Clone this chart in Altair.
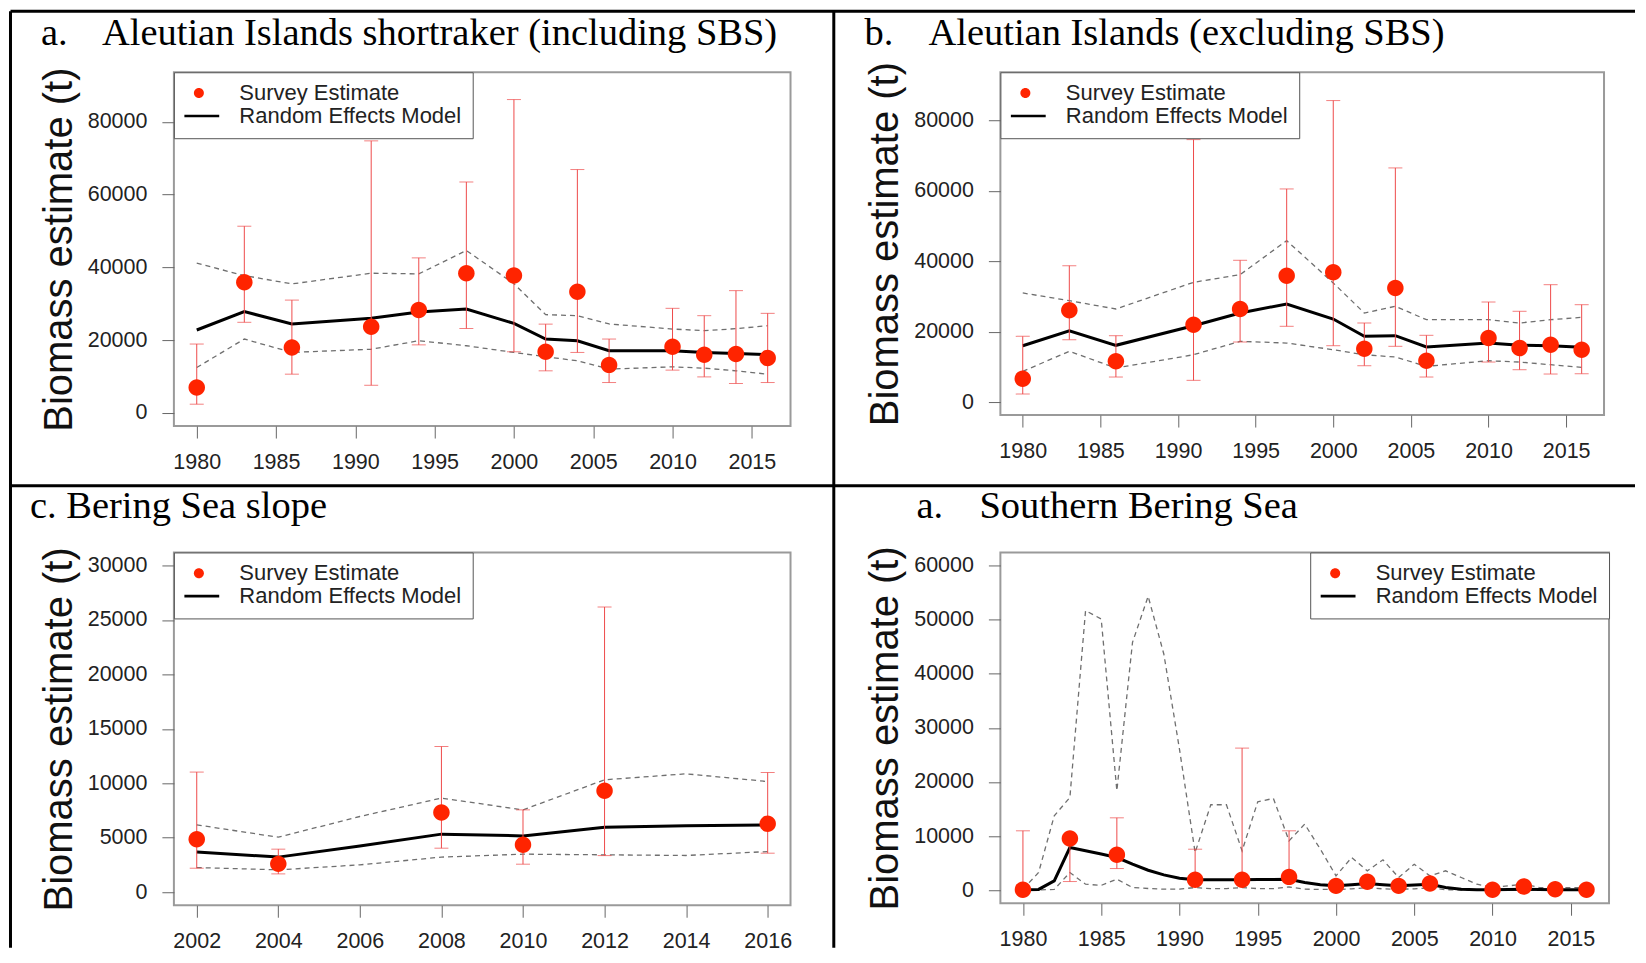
import altair as alt
import pandas as pd

SANS = "Liberation Sans"
SERIF = "Liberation Serif"
SERIES = ["Survey Estimate", "Random Effects Model"]

# ---------------- data ----------------
# a. Aleutian Islands shortraker (including SBS)
a_years = [1980, 1983, 1986, 1991, 1994, 1997, 2000, 2002, 2004, 2006, 2010, 2012, 2014, 2016]
a_est = [6970, 35900, 18000, 23700, 28300, 38400, 37750, 16800, 33300, 13200, 18200, 16000, 16170, 15070]
a_lo = [2400, 24900, 10650, 7600, 18700, 23200, 16800, 11570, 16620, 8350, 11760, 9900, 8080, 8350]
a_hi = [18930, 51300, 31000, 74750, 42600, 63450, 86100, 24400, 66870, 20300, 28740, 26720, 33600, 27360]
a_mod_years = [1980, 1983, 1986, 1991, 1994, 1997, 2000, 2002, 2004, 2006, 2010, 2012, 2014, 2016]
a_model = [22780, 27830, 24440, 26000, 27700, 28570, 24600, 20300, 19840, 17080, 17080, 16620, 16350, 15980]
a_ci_up = [41130, 37740, 35450, 38380, 38200, 44630, 35500, 27000, 26720, 24440, 23050, 22590, 23150, 23970]
a_ci_lo = [12480, 20300, 16620, 17500, 19840, 18460, 16620, 15430, 14330, 12030, 12670, 12300, 11570, 10650]

# b. Aleutian Islands (excluding SBS)
b_years = [1980, 1983, 1986, 1991, 1994, 1997, 2000, 2002, 2004, 2006, 2010, 2012, 2014, 2016]
b_est = [6700, 26100, 11630, 22020, 26470, 35920, 36880, 15210, 32430, 11800, 18240, 15400, 16340, 14920]
b_lo = [2350, 17760, 7180, 6240, 17110, 21560, 16060, 10380, 15890, 7180, 11430, 9250, 8030, 8110]
b_hi = [18720, 38750, 18900, 74500, 40280, 60510, 85570, 22500, 66470, 19010, 28450, 25820, 33360, 27690]
b_mod_years = [1980, 1983, 1986, 1991, 1994, 1997, 2000, 2002, 2004, 2006, 2010, 2012, 2014, 2016]
b_model = [16060, 20310, 16170, 21730, 25330, 27890, 23630, 18720, 18900, 15690, 16820, 16170, 16060, 15600]
b_ci_up = [31010, 28830, 26470, 34040, 36200, 45850, 33850, 25330, 27230, 23430, 23430, 22500, 23430, 24110]
b_ci_lo = [8790, 14470, 9730, 13500, 17300, 16820, 14920, 13500, 12850, 10210, 11800, 11430, 10670, 9930]

# c. Bering Sea slope
c_years = [2002, 2004, 2008, 2010, 2012, 2016]
c_est = [4870, 2600, 7320, 4350, 9310, 6280]
c_lo = [2200, 1680, 4040, 2570, 3360, 3580]
c_hi = [11030, 3950, 13380, 7560, 26190, 10990]
c_mod_years = [2002, 2004, 2006, 2008, 2010, 2012, 2014, 2016]
c_model = [3680, 3220, 4250, 5330, 5170, 5970, 6090, 6180]
c_ci_up = [6180, 5050, 6950, 8640, 7560, 10320, 10870, 10160]
c_ci_lo = [2260, 2050, 2510, 3220, 3490, 3430, 3370, 3730]

# d. Southern Bering Sea
d_years = [1980, 1983, 1986, 1991, 1994, 1997, 2000, 2002, 2004, 2006, 2010, 2012, 2014, 2016]
d_est = [100, 9560, 6540, 1920, 1920, 2470, 810, 1550, 810, 1230, 80, 680, 190, 80]
d_lo = [0, 1610, 4010, 1300, 1300, 1800, 300, 1000, 300, 700, 0, 200, 0, 0]
d_hi = [10980, 10200, 13380, 7580, 26260, 10980, 1400, 2100, 1300, 1800, 500, 1200, 600, 500]
d_mod_years = list(range(1980, 2017))
d_model = [100, 150, 1730, 7890, 7300, 6700, 6050, 4810, 3700, 2840, 2220, 1920, 1950, 1950,
           1950, 1980, 2000, 2040, 1420, 1000, 810, 1000, 1230, 1000, 810, 950, 1110, 500,
           200, 100, 80, 150, 190, 150, 100, 90, 80]
d_ci_up = [200, 3270, 13750, 17140, 51660, 50110, 18380, 45800, 54300, 43640, 26070, 6970,
           15790, 15790, 7280, 16340, 16960, 9130, 12210, 7580, 2660, 6050, 3590, 5620, 2350,
           4810, 2660, 3590, 2350, 1110, 500, 810, 1110, 500, 500, 500, 500]
d_ci_lo = [100, 50, 150, 3270, 1110, 900, 2040, 500, 320, 200, 200, 500, 300, 300, 500, 300,
           300, 600, 200, 150, 150, 250, 500, 250, 200, 250, 450, 100, 50, 30, 20, 40, 50, 40,
           30, 30, 20]

ticks_x_long = [1980, 1985, 1990, 1995, 2000, 2005, 2010, 2015]
ticks_x_c = [2002, 2004, 2006, 2008, 2010, 2012, 2014, 2016]
ticks_y_ab = [0, 20000, 40000, 60000, 80000]
ticks_y_c = [0, 5000, 10000, 15000, 20000, 25000, 30000]
ticks_y_d = [0, 10000, 20000, 30000, 40000, 50000, 60000]

# ---------------- styling ----------------
RED = "#ff2400"
BAR_RED = "#ee4a4a"
CIRCLE = "M-0.246,0A0.246,0.246,0,1,0,0.246,0A0.246,0.246,0,1,0,-0.246,0Z"
LINE_SYM = "M-1,-0.066H1V0.066H-1Z"


def one_row():
    return alt.Data(values=[{}])


def panel(years, est, lo, hi, mod_years, model, ci_up, ci_lo,
          xdom, ydom, xticks, yticks, width, height, legend_orient, titles, extra=()):
    pts = pd.DataFrame({"year": years, "est": est, "lo": lo, "hi": hi,
                        "series": [SERIES[0]] * len(years)})
    mod = pd.DataFrame({"year": mod_years, "model": model, "up": ci_up, "low": ci_lo})

    xs = alt.Scale(domain=xdom, nice=False, zero=False)
    ys = alt.Scale(domain=ydom, nice=False, zero=False)
    xaxis = alt.Axis(values=xticks, format="d", title=None, grid=False, domain=False,
                     tickSize=12, tickColor="#666", tickWidth=1, labelFont=SANS,
                     labelFontSize=21.5, labelColor="#222", labelPadding=13,
                     labelFlush=False, labelOverlap=False)
    yaxis = alt.Axis(values=yticks, format="d", title="Biomass estimate (t)", grid=False,
                     domain=False, tickSize=12, tickColor="#666", tickWidth=1,
                     labelFont=SANS, labelFontSize=21.5, labelColor="#222",
                     labelPadding=15, labelFlush=False, labelOverlap=False,
                     titleFont=SANS, titleFontSize=40, titleFontWeight="normal",
                     titleColor="#111", titlePadding=8)
    X = lambda f: alt.X(f, type="quantitative", scale=xs, axis=xaxis)
    Y = lambda f: alt.Y(f, type="quantitative", scale=ys, axis=yaxis)

    leg = alt.Legend(title=None, orient=legend_orient, offset=0, padding=10.5,
                     fillColor="white", strokeColor="#555", labelFont=SANS,
                     labelFontSize=22, labelColor="#222", labelLimit=400,
                     labelOffset=20, symbolOffset=-6, symbolSize=1656,
                     symbolStrokeWidth=0, clipHeight=20.5, rowPadding=0,
                     symbolOpacity=1)

    up = alt.Chart(mod).mark_line(color="#6f6f6f", strokeDash=[5, 4], strokeWidth=1.3).encode(
        x=X("year"), y=Y("up"))
    dn = alt.Chart(mod).mark_line(color="#6f6f6f", strokeDash=[5, 4], strokeWidth=1.3).encode(
        x=X("year"), y=Y("low"))
    line = alt.Chart(mod).mark_line(color="black", strokeWidth=3).encode(
        x=X("year"), y=Y("model"))
    bars = alt.Chart(pts).mark_rule(color=BAR_RED, strokeWidth=1).encode(
        x=X("year"), y=Y("lo"), y2="hi")
    cap_lo = alt.Chart(pts).mark_tick(color=BAR_RED, orient="horizontal", size=14,
                                      thickness=1).encode(x=X("year"), y=Y("lo"))
    cap_hi = alt.Chart(pts).mark_tick(color=BAR_RED, orient="horizontal", size=14,
                                      thickness=1).encode(x=X("year"), y=Y("hi"))
    points = alt.Chart(pts).mark_point(filled=True, size=4490, opacity=1).encode(
        x=X("year"), y=Y("est"),
        color=alt.Color("series:N", scale=alt.Scale(domain=SERIES, range=[RED, "black"]),
                        legend=leg),
        shape=alt.Shape("series:N", scale=alt.Scale(domain=SERIES, range=[CIRCLE, LINE_SYM]),
                        legend=leg),
    )
    title_layers = []
    for txt, tx, ty in titles:
        title_layers.append(
            alt.Chart(one_row()).mark_text(text=txt, align="left", baseline="alphabetic",
                                           font=SERIF, fontSize=38.5, color="black")
            .encode(x=alt.value(tx), y=alt.value(ty)))
    return alt.layer(up, dn, line, bars, cap_lo, cap_hi, points, *title_layers, *extra
                     ).properties(width=width, height=height)


def frame_rule(**enc):
    return alt.Chart(one_row()).mark_rule(color="black", strokeWidth=3).encode(**enc)


frame = [
    frame_rule(x=alt.value(-163.5), x2=alt.value(1462), y=alt.value(-61)),
    frame_rule(x=alt.value(-163.5), y=alt.value(-61), y2=alt.value(876)),
    frame_rule(x=alt.value(660.3), y=alt.value(-61), y2=alt.value(876)),
    frame_rule(x=alt.value(-163.5), x2=alt.value(1462), y=alt.value(413.8)),
]

XDOM_LONG = [1978.56, 2017.44]
pa = panel(a_years, a_est, a_lo, a_hi, a_mod_years, a_model, a_ci_up, a_ci_lo,
           XDOM_LONG, [-3600, 93600], ticks_x_long, ticks_y_ab, 617, 354, "top-left",
           [("a.", -133, -27), ("Aleutian Islands shortraker (including SBS)", -72, -27)],
           frame)
pb = panel(b_years, b_est, b_lo, b_hi, b_mod_years, b_model, b_ci_up, b_ci_lo,
           XDOM_LONG, [-3600, 93600], ticks_x_long, ticks_y_ab, 604, 343, "top-left",
           [("b.", -136, -27), ("Aleutian Islands (excluding SBS)", -72, -27)])
pc = panel(c_years, c_est, c_lo, c_hi, c_mod_years, c_model, c_ci_up, c_ci_lo,
           [2001.44, 2016.56], [-1200, 31200], ticks_x_c, ticks_y_c, 617, 353, "top-left",
           [("c. Bering Sea slope", -144, -34)])
pd_ = panel(d_years, d_est, d_lo, d_hi, d_mod_years, d_model, d_ci_up, d_ci_lo,
            XDOM_LONG, [-2400, 62400], ticks_x_long, ticks_y_d, 609, 351, "top-right",
            [("a.", -84, -34), ("Southern Bering Sea", -21, -34)])

chart = alt.concat(pa, pb, pc, pd_, columns=2, bounds="flush",
                   spacing=alt.RowColnumber(row=126.5, column=210)
                   ).resolve_scale(color="independent", shape="independent"
                   ).resolve_legend(color="independent", shape="independent"
                   ).properties(padding=0
                   ).configure_view(stroke="#9a9a9a", strokeWidth=2)

chart.save("out.html", embed_options={"renderer": "svg", "actions": False})
